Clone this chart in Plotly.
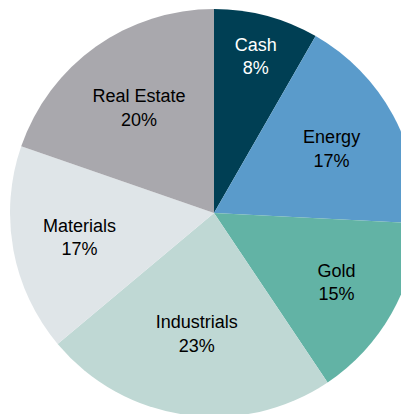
import plotly.graph_objects as go

labels = ["Cash", "Energy", "Gold", "Industrials", "Materials", "Real Estate"]
values = [8.3, 17.5, 14.8, 23.3, 16.4, 19.7]
# percentages as printed on the slices
pct_text = ["8%", "17%", "15%", "23%", "17%", "20%"]
colors = ["#003f54", "#5a9bcb", "#62b3a5", "#bfd8d4", "#dfe5e8", "#a9a8ad"]
text_colors = ["#ffffff", "#000000", "#000000", "#000000", "#000000", "#000000"]

fig = go.Figure(go.Pie(
    labels=labels,
    values=values,
    text=pct_text,
    sort=False,
    direction="clockwise",
    rotation=0,
    marker=dict(colors=colors, line=dict(width=0)),
    texttemplate="%{label}<br>%{text}",
    textposition="inside",
    insidetextorientation="horizontal",
    textfont=dict(family="Liberation Sans, Arial, sans-serif", size=18, color=text_colors),
    hoverinfo="label+text",
    showlegend=False,
))

fig.update_layout(
    width=410, height=409,
    margin=dict(l=2, r=0, t=1, b=0),
    paper_bgcolor="white",
    plot_bgcolor="white",
    uniformtext=dict(minsize=18, mode="show"),
)

fig.write_html("out.html")
